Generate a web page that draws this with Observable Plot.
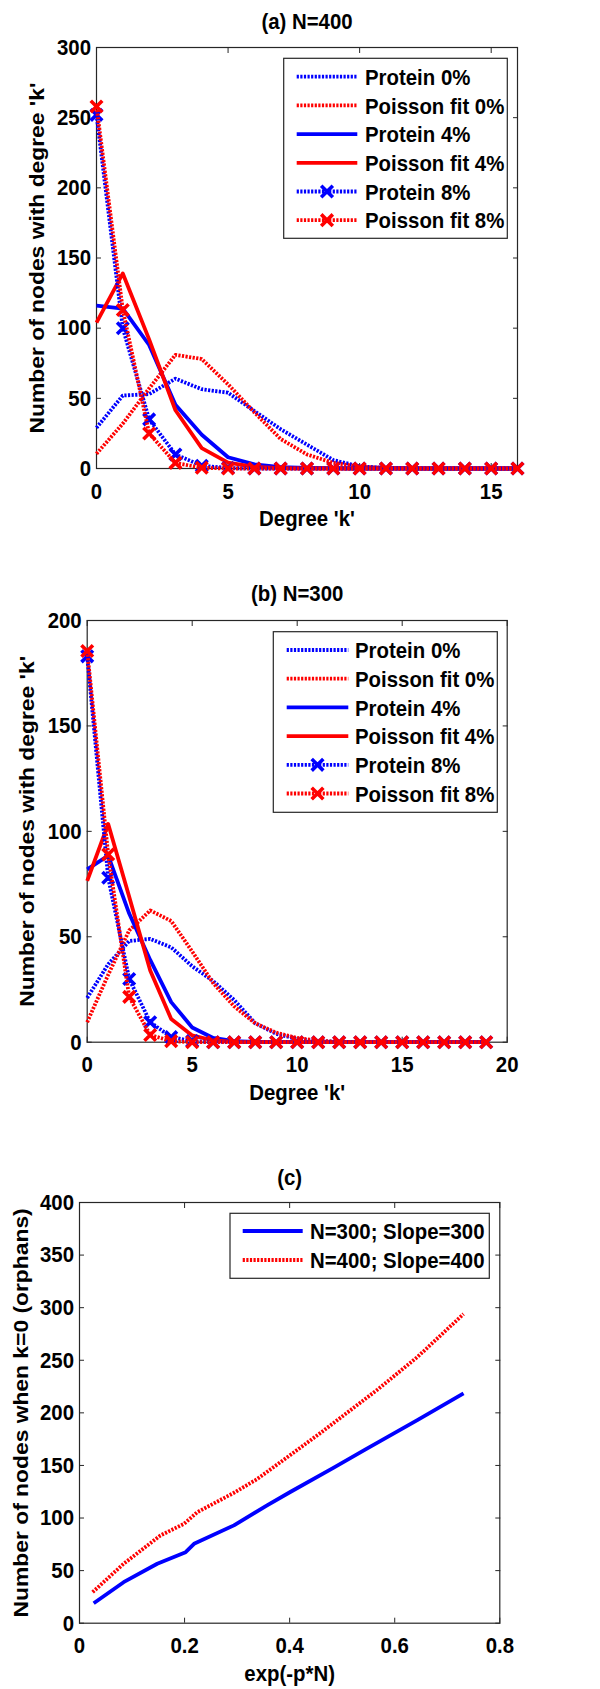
<!DOCTYPE html>
<html>
<head>
<meta charset="utf-8">
<script src="https://cdn.jsdelivr.net/npm/d3@7"></script>
<script src="https://cdn.jsdelivr.net/npm/@observablehq/plot@0.6"></script>
<style>
  html, body { margin: 0; padding: 0; background: #fff; }
  #chart { width: 600px; }
  #chart svg { display: block; }
</style>
</head>
<body>
<div id="chart"></div>
<script>
// ---------- Panel (a): N = 400 ----------
const degreeA   = [0, 1, 2, 3, 4, 5, 6, 7, 8, 9, 10, 11, 12, 13, 14, 15, 16];
const protein0A = [29, 52, 53, 64, 56.5, 54, 41, 28, 17, 6, 1.5, 0.5, 0.2, 0, 0, 0, 0];
const poisson0A = [10.5, 32, 57, 81, 78, 60, 40, 21, 10, 4, 1.3, 0.4, 0.1, 0, 0, 0, 0];
const protein4A = [116, 114, 88, 45.5, 24, 8, 3, 1, 0.5, 0.2, 0, 0, 0, 0, 0, 0, 0];
const poisson4A = [104, 139, 92, 41.5, 14.5, 4.2, 1.2, 0.3, 0, 0, 0, 0, 0, 0, 0, 0, 0];
const protein8A = [252, 100, 35, 10, 2, 0.3, 0, 0, 0, 0, 0, 0, 0, 0, 0, 0, 0];
const poisson8A = [258, 113, 25, 4, 0.5, 0, 0, 0, 0, 0, 0, 0, 0, 0, 0, 0, 0];
const xTicksA = [0, 5, 10, 15];
const yTicksA = [0, 50, 100, 150, 200, 250, 300];

// ---------- Panel (b): N = 300 ----------
const degreeB   = [0, 1, 2, 3, 4, 5, 6, 7, 8, 9, 10, 11, 12, 13, 14, 15, 16, 17, 18, 19];
const protein0B = [21, 37, 48, 49, 45, 36, 29, 20, 9, 4, 1.5, 0.5, 0.2, 0, 0, 0, 0, 0, 0, 0];
const poisson0B = [9.5, 32, 53, 62.5, 57.5, 43, 28, 17, 9, 4.5, 2, 0.7, 0.2, 0, 0, 0, 0, 0, 0, 0];
const protein4B = [82, 88.5, 61, 39, 19, 7, 2, 0.5, 0.2, 0, 0, 0, 0, 0, 0, 0, 0, 0, 0, 0];
const poisson4B = [76.5, 103.5, 69, 34, 11, 3.2, 0.8, 0.2, 0, 0, 0, 0, 0, 0, 0, 0, 0, 0, 0, 0];
const protein8B = [183, 78, 30, 9.5, 2.4, 0.5, 0, 0, 0, 0, 0, 0, 0, 0, 0, 0, 0, 0, 0, 0];
const poisson8B = [185.5, 89, 21.5, 3.4, 0.5, 0, 0, 0, 0, 0, 0, 0, 0, 0, 0, 0, 0, 0, 0, 0];
const xTicksB = [0, 5, 10, 15, 20];
const yTicksB = [0, 50, 100, 150, 200];

// ---------- Panel (c): orphans vs exp(-p*N) ----------
const expPN300   = [0.027, 0.084, 0.148, 0.202, 0.218, 0.294, 0.357, 0.402, 0.484, 0.542, 0.643, 0.731];
const orphans300 = [19, 39, 56.5, 67.5, 75.5, 93, 112, 125, 148, 164.5, 193, 218.5];
const expPN400   = [0.025, 0.084, 0.154, 0.199, 0.224, 0.294, 0.338, 0.396, 0.459, 0.567, 0.643, 0.731];
const orphans400 = [29.5, 56.5, 83.4, 94.5, 105.5, 124, 137, 158, 181, 222, 253, 294];
const xTicksC = [0, 0.2, 0.4, 0.6, 0.8];
const yTicksC = [0, 50, 100, 150, 200, 250, 300, 350, 400];

// ---------- styling ----------
const FONT = "'Liberation Sans', Arial, Helvetica, sans-serif";
const FONT_SIZE = 20.4;
const BLUE = "#0000ff", RED = "#ff0000", AXIS = "#262626";
const DOTTED = "2.2,1.4";
const TEXT_STRETCH = 1.12;   // glyphs are slightly taller than they are wide

const degreeSeries = (ks, p0, f0, p4, f4, p8, f8) => [
  {name: "Protein 0%",     x: ks, y: p0, color: BLUE, dash: DOTTED, marker: false},
  {name: "Poisson fit 0%", x: ks, y: f0, color: RED,  dash: DOTTED, marker: false},
  {name: "Protein 4%",     x: ks, y: p4, color: BLUE, dash: null,   marker: false},
  {name: "Poisson fit 4%", x: ks, y: f4, color: RED,  dash: null,   marker: false},
  {name: "Protein 8%",     x: ks, y: p8, color: BLUE, dash: DOTTED, marker: true},
  {name: "Poisson fit 8%", x: ks, y: f8, color: RED,  dash: DOTTED, marker: true}
];

const panels = [
  {
    title: "(a) N=400", xLabel: "Degree 'k'", yLabel: "Number of nodes with degree 'k'",
    height: 560, margin: {top: 47, right: 83, bottom: 92, left: 96},
    xDomain: [0, 16], yDomain: [0, 300], xTicks: xTicksA, yTicks: yTicksA,
    titleDy: -26, yLabelDx: -59,
    series: degreeSeries(degreeA, protein0A, poisson0A, protein4A, poisson4A, protein8A, poisson8A),
    legend: {right: 9.7, top: 11.3, width: 223.6, height: 180, first: 18.4, step: 28.7, s0: 13, s1: 73.6, tx: 81.3}
  },
  {
    title: "(b) N=300", xLabel: "Degree 'k'", yLabel: "Number of nodes with degree 'k'",
    height: 580, margin: {top: 60, right: 93.3, bottom: 98.3, left: 86.7},
    xDomain: [0, 20], yDomain: [0, 200], xTicks: xTicksB, yTicks: yTicksB,
    titleDy: -27, yLabelDx: -60,
    series: degreeSeries(degreeB, protein0B, poisson0B, protein4B, poisson4B, protein8B, poisson8B),
    legend: {right: 9.4, top: 11.7, width: 224, height: 180.6, first: 18.3, step: 28.7, s0: 13.4, s1: 75, tx: 81.7}
  },
  {
    title: "(c)", xLabel: "exp(-p*N)", yLabel: "Number of nodes when k=0 (orphans)",
    height: 549, margin: {top: 62, right: 100.7, bottom: 66.3, left: 79},
    xDomain: [0, 0.8], yDomain: [0, 400], xTicks: xTicksC, yTicks: yTicksC,
    titleDy: -25.3, yLabelDx: -58,
    series: [
      {name: "N=300; Slope=300", x: expPN300, y: orphans300, color: BLUE, dash: null,   marker: false},
      {name: "N=400; Slope=400", x: expPN400, y: orphans400, color: RED,  dash: DOTTED, marker: false}
    ],
    legend: {right: 10, top: 11.3, width: 259.3, height: 65, first: 17.7, step: 29, s0: 12.7, s1: 72.7, tx: 80}
  }
];

const rowsOf = s => s.x.map((xv, i) => ({x: xv, y: s.y[i]}));
const lineWidth = () => 3.8;

// Stretch every text vertically (along its own direction for rotated labels).
function stretchText(svg) {
  svg.querySelectorAll("text").forEach(t => {
    const tr = t.getAttribute("transform");
    if (!tr) return;
    const rotated = /rotate\(\s*-?90/.test(tr);
    t.setAttribute("transform", tr + (rotated ? ` scale(${TEXT_STRETCH},1)` : ` scale(1,${TEXT_STRETCH})`));
  });
}

function addLegend(svg, frame, L, items) {
  const x0 = frame.right - L.right - L.width;
  const y0 = frame.top + L.top;
  const g = d3.select(svg).append("g").attr("class", "legend");
  g.append("rect")
    .attr("x", x0).attr("y", y0).attr("width", L.width).attr("height", L.height)
    .attr("fill", "white").attr("stroke", AXIS).attr("stroke-width", 1.2);
  const cross = d3.symbol(d3.symbolTimes, 90)();
  items.forEach((s, i) => {
    const cy = y0 + L.first + i * L.step;
    g.append("line")
      .attr("x1", x0 + L.s0).attr("x2", x0 + L.s1).attr("y1", cy).attr("y2", cy)
      .attr("stroke", s.color).attr("stroke-width", lineWidth(s))
      .attr("stroke-dasharray", s.dash);
    if (s.marker) {
      g.append("path").attr("d", cross)
        .attr("transform", `translate(${x0 + (L.s0 + L.s1) / 2},${cy})`)
        .attr("fill", "none").attr("stroke", s.color).attr("stroke-width", 3.6);
    }
    g.append("text")
      .attr("transform", `translate(${x0 + L.tx},${cy}) scale(1,${TEXT_STRETCH})`)
      .attr("dy", "0.36em")
      .attr("text-anchor", "start")
      .attr("fill", "black")
      .attr("font-family", FONT).attr("font-size", FONT_SIZE).attr("font-weight", "bold")
      .text(s.name);
  });
}

function renderPanel(cfg) {
  const W = 600;
  const m = cfg.margin;
  const frame = {left: m.left, right: W - m.right, top: m.top, bottom: cfg.height - m.bottom};
  const textStyle = {fontSize: FONT_SIZE, fontWeight: "bold", fill: "black"};

  const marks = [
    Plot.frame({stroke: AXIS, strokeWidth: 1.2}),
    Plot.axisX({anchor: "bottom", ticks: cfg.xTicks, tickSize: -5, tickPadding: 19,
                tickFormat: d => String(d), label: null, stroke: AXIS, ...textStyle}),
    Plot.axisX({anchor: "top", ticks: cfg.xTicks, tickSize: -5, tickFormat: () => "",
                label: null, stroke: AXIS}),
    Plot.axisY({anchor: "left", ticks: cfg.yTicks, tickSize: -5, tickPadding: 10.5,
                tickFormat: d => String(d), label: null, stroke: AXIS, ...textStyle}),
    Plot.axisY({anchor: "right", ticks: cfg.yTicks, tickSize: -5, tickFormat: () => "",
                label: null, stroke: AXIS})
  ];

  cfg.series.forEach(s => {
    const rows = rowsOf(s);
    marks.push(Plot.line(rows, {
      x: "x", y: "y", stroke: s.color, strokeWidth: lineWidth(s),
      strokeDasharray: s.dash || undefined, strokeLinejoin: "round", strokeLinecap: "butt"
    }));
    if (s.marker) {
      marks.push(Plot.dot(rows, {
        x: "x", y: "y", symbol: "times", r: 5.3, stroke: s.color, strokeWidth: 3.6, fill: "none"
      }));
    }
  });

  marks.push(
    Plot.text([cfg.title], {text: d => d, frameAnchor: "top", dy: cfg.titleDy, lineAnchor: "middle", textAnchor: "middle", ...textStyle}),
    Plot.text([cfg.xLabel], {text: d => d, frameAnchor: "bottom", dy: 50.5, lineAnchor: "middle", textAnchor: "middle", ...textStyle}),
    Plot.text([cfg.yLabel], {text: d => d, frameAnchor: "left", dx: cfg.yLabelDx, rotate: -90, lineAnchor: "middle", textAnchor: "middle", ...textStyle})
  );

  const svg = Plot.plot({
    width: W, height: cfg.height,
    marginTop: m.top, marginRight: m.right, marginBottom: m.bottom, marginLeft: m.left,
    x: {type: "linear", domain: cfg.xDomain},
    y: {type: "linear", domain: cfg.yDomain},
    style: {fontFamily: FONT, fontSize: `${FONT_SIZE}px`, fontWeight: "bold", color: "black", background: "white", overflow: "visible"},
    marks
  });

  stretchText(svg);
  addLegend(svg, frame, cfg.legend, cfg.series);
  return svg;
}

const root = document.getElementById("chart");
panels.forEach(cfg => root.appendChild(renderPanel(cfg)));
</script>
</body>
</html>
